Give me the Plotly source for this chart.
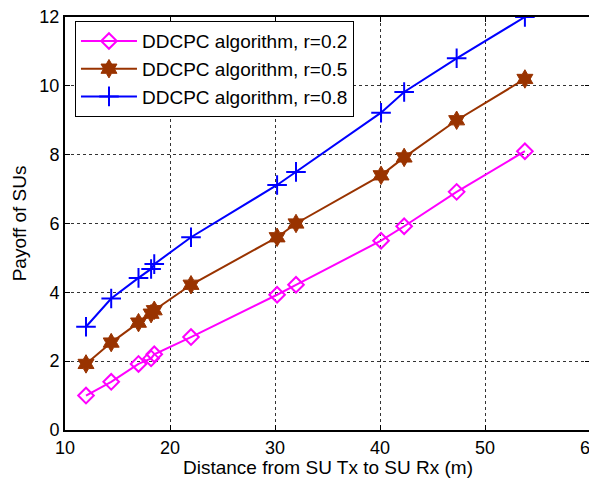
import plotly.graph_objects as go

# distance from SU Tx to SU Rx (m)
distance = [12, 14.4, 17, 18.2, 18.5, 22, 30.2, 32, 40.1, 42.3, 47.3, 53.8]

# payoff of SUs for each r
payoff_r02 = [1.0, 1.4, 1.92, 2.08, 2.2, 2.7, 3.93, 4.22, 5.5, 5.92, 6.92, 8.1]
payoff_r05 = [1.92, 2.54, 3.12, 3.38, 3.48, 4.22, 5.6, 6.0, 7.4, 7.92, 9.0, 10.2]
payoff_r08 = [3.0, 3.82, 4.42, 4.68, 4.82, 5.6, 7.12, 7.5, 9.22, 9.82, 10.8, 12.0]

series_names = ["DDCPC algorithm, r=0.2", "DDCPC algorithm, r=0.5", "DDCPC algorithm, r=0.8"]

x_ticks = [10, 20, 30, 40, 50, 60]
y_ticks = [0, 2, 4, 6, 8, 10, 12]

fig = go.Figure()

fig.add_trace(go.Scatter(
    x=distance, y=payoff_r02, name=series_names[0], mode="lines+markers",
    line=dict(color="#FF00FF", width=2),
    marker=dict(symbol="diamond-open", size=12, color="#FF00FF", line=dict(width=2)),
))
fig.add_trace(go.Scatter(
    x=distance, y=payoff_r05, name=series_names[1], mode="lines+markers",
    line=dict(color="#993300", width=2),
    marker=dict(symbol="hexagram", size=14, color="#993300", line=dict(width=1, color="#993300")),
))
fig.add_trace(go.Scatter(
    x=distance, y=payoff_r08, name=series_names[2], mode="lines+markers",
    line=dict(color="#0000FF", width=2),
    marker=dict(symbol="cross-thin", size=14, color="#0000FF", line=dict(width=2, color="#0000FF")),
))

axis_style = dict(
    showline=True, linecolor="black", linewidth=2, mirror="ticks",
    ticks="inside", ticklen=5, tickcolor="black", automargin=False,
    ticklabeloverflow="allow",
    showgrid=True, gridcolor="#333333", griddash="dot", gridwidth=1,
    zeroline=False, tickfont=dict(size=18, color="black"),
)

fig.update_xaxes(range=[10, 60], tickvals=x_ticks, **axis_style)
fig.update_yaxes(range=[0, 12], tickvals=y_ticks, **axis_style)

# axis titles placed by hand so they sit where the original has them
fig.add_annotation(x=0.5, y=-0.09, xref="paper", yref="paper", yanchor="middle",
                   text="Distance from SU Tx to SU Rx (m)", showarrow=False,
                   font=dict(size=19, color="black"))
fig.add_annotation(x=-0.086, y=0.5, xref="paper", yref="paper", xanchor="center",
                   text="Payoff of SUs", textangle=-90, showarrow=False,
                   font=dict(size=19, color="black"))

# page body has an 8px margin, so the figure sits 8px right/down in the window
fig.update_layout(
    width=597, height=481,
    margin=dict(l=57, r=15, t=9, b=59),
    plot_bgcolor="white", paper_bgcolor="white",
    font=dict(family="Arial, Liberation Sans, sans-serif", color="black"),
    legend=dict(x=0.019, y=0.99, xanchor="left", yanchor="top",
                bordercolor="black", borderwidth=1, bgcolor="white",
                itemwidth=56,
                font=dict(size=19, color="black"), tracegroupgap=0),
    showlegend=True,
)

fig.write_html("out.html")
